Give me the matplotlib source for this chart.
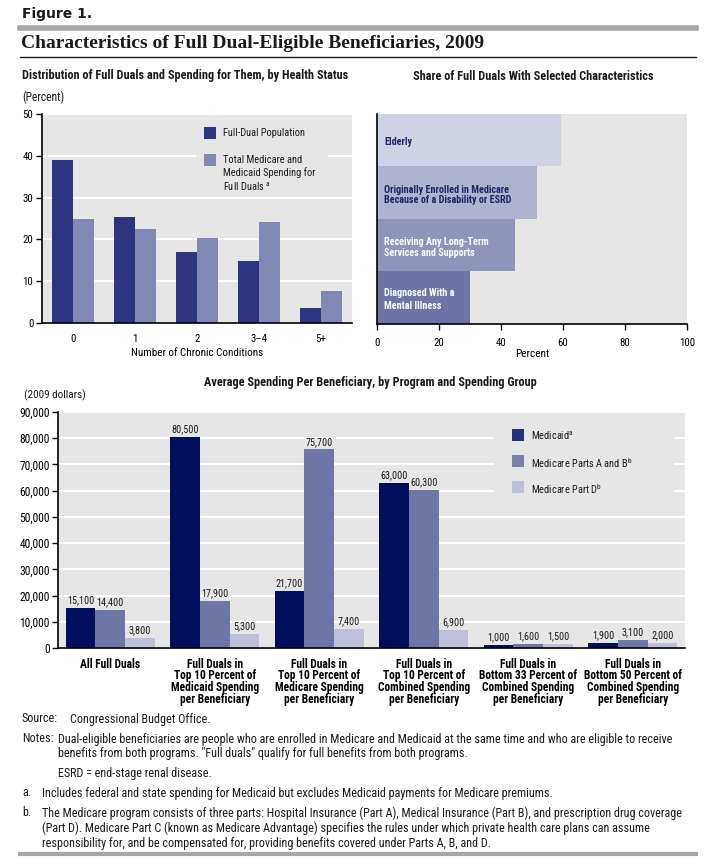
import matplotlib
matplotlib.use('Agg')
import matplotlib.pyplot as plt
from matplotlib import font_manager as fm
from matplotlib.lines import Line2D
from matplotlib.patches import Rectangle

# ---- data -------------------------------------------------------------
conditions = ['0', '1', '2', '3\u20134', '5+']
pop_share = [39.0, 25.4, 17.0, 14.8, 3.5]
spend_share = [24.9, 22.5, 20.3, 24.2, 7.6]

traits = ['Elderly',
          'Originally Enrolled in Medicare\nBecause of a Disability or ESRD',
          'Receiving Any Long-Term\nServices and Supports',
          'Diagnosed With a\nMental Illness']
trait_share = [59.4, 51.6, 44.5, 30.0]

groups = ['All Full Duals',
          'Full Duals in\nTop 10 Percent of\nMedicaid Spending\nper Beneficiary',
          'Full Duals in\nTop 10 Percent of\nMedicare Spending\nper Beneficiary',
          'Full Duals in\nTop 10 Percent of\nCombined Spending\nper Beneficiary',
          'Full Duals in\nBottom 33 Percent of\nCombined Spending\nper Beneficiary',
          'Full Duals in\nBottom 50 Percent of\nCombined Spending\nper Beneficiary']
medicaid = [15100, 80500, 21700, 63000, 1000, 1900]
medicare_ab = [14400, 17900, 75700, 60300, 1600, 3100]
medicare_d = [3800, 5300, 7400, 6900, 1500, 2000]


def pick(*names):
    for n in names:
        try:
            fm.findfont(fm.FontProperties(family=n), fallback_to_default=False)
            return n
        except ValueError:
            pass
    return 'DejaVu Sans'


NARROW = pick('Liberation Sans Narrow', 'Roboto Condensed', 'Liberation Sans')
SERIF = pick('Liberation Serif', 'DejaVu Serif')
plt.rcParams['font.family'] = [NARROW, 'DejaVu Sans']
plt.rcParams['text.color'] = '#1a1a1a'

BG = '#e6e6e6'
W, H = 716, 859
fig = plt.figure(figsize=(W / 100, H / 100), dpi=100)


def fx(x):
    return x / W


def fy(y):
    return 1 - y / H


def ax_px(x0, y0, x1, y1):
    return fig.add_axes([fx(x0), fy(y1), (x1 - x0) / W, (y1 - y0) / H])


def hline(y, x0, x1, lw, color):
    fig.add_artist(Line2D([fx(x0), fx(x1)], [fy(y), fy(y)], lw=lw,
                          color=color, transform=fig.transFigure))


def key(x, y, color, label, size=7.5):
    """square legend key with label, pixel coords of the key's top-left"""
    fig.add_artist(Rectangle((fx(x), fy(y + 12)), 12 / W, 12 / H,
                             facecolor=color, edgecolor='none',
                             transform=fig.transFigure))
    fig.text(fx(x + 19), fy(y + 1), label, fontsize=size, va='top',
             ha='left', linespacing=1.25)


def style_axes(ax):
    ax.set_facecolor(BG)
    for s in ['top', 'right']:
        ax.spines[s].set_visible(False)
    for s in ['left', 'bottom']:
        ax.spines[s].set_linewidth(1.2)
    ax.set_axisbelow(True)


# ---- header -----------------------------------------------------------
fig.text(fx(22), fy(14), 'Figure 1.', fontsize=10, fontweight='bold',
         family='DejaVu Sans', va='center')
hline(28, 20, 696, 4, '#a6a6a6')
fig.text(fx(21), fy(43), 'Characteristics of Full Dual-Eligible Beneficiaries, 2009',
         fontsize=14, fontweight='bold', family=SERIF, va='center')
hline(57, 20, 696, 1, '#1a1a1a')

# ---- top left: health status -------------------------------------------
fig.text(fx(22), fy(76), 'Distribution of Full Duals and Spending for Them, by Health Status',
         fontsize=8.8, fontweight='bold', va='center')
fig.text(fx(22), fy(97), '(Percent)', fontsize=8.3, va='center')

ax1 = ax_px(41.7, 114, 352, 323)
style_axes(ax1)
w = 0.34
xs = range(len(conditions))
ax1.bar([x - w / 2 for x in xs], pop_share, w, color='#2e3580')
ax1.bar([x + w / 2 for x in xs], spend_share, w, color='#8088b3')
ax1.set_xlim(-0.5, 4.5)
ax1.set_ylim(0, 50)
ax1.set_yticks(range(0, 51, 10))
ax1.set_xticks(list(xs))
ax1.set_xticklabels(conditions)
ax1.yaxis.grid(True, color='white', lw=1.4)
ax1.tick_params(axis='y', length=4, width=1, labelsize=7.8, pad=2)
ax1.tick_params(axis='x', length=0, labelsize=7.8, pad=8)
ax1.set_xlabel('Number of Chronic Conditions', fontsize=8, labelpad=3)

fig.add_artist(Rectangle((fx(196), fy(196)), 132 / W, 74 / H, facecolor=BG,
                         edgecolor='none', transform=fig.transFigure))
key(204, 127, '#2e3580', 'Full-Dual Population')
key(204, 154, '#8088b3', 'Total Medicare and\nMedicaid Spending for\nFull Duals $^{\\mathregular{a}}$')

# ---- top right: characteristics -----------------------------------------
fig.text(fx(533), fy(76), 'Share of Full Duals With Selected Characteristics',
         fontsize=8.8, fontweight='bold', va='center', ha='center')

ax2 = ax_px(377, 114, 687, 324)
style_axes(ax2)
trait_colors = ['#cfd2e4', '#b0b3cf', '#9094ba', '#6e74a6']
text_colors = ['#1c2466', '#1c2466', 'white', 'white']
ypos = [3, 2, 1, 0]
ax2.barh(ypos, trait_share, 1.0, color=trait_colors)
for yp, lab, tc in zip(ypos, traits, text_colors):
    ax2.text(2.3, yp - 0.04, lab, color=tc, fontsize=7.3, fontweight='bold',
             va='center', ha='left',
             linespacing=1.4 if yp == 0 else 1.05)
ax2.set_xlim(0, 100)
ax2.set_ylim(-0.5, 3.5)
ax2.set_yticks([])
ax2.set_xticks(range(0, 101, 20))
ax2.tick_params(axis='x', length=4, width=1, labelsize=7.8, pad=6)
ax2.set_xlabel('Percent', fontsize=8.2, labelpad=1)

# ---- bottom: spending per beneficiary ----------------------------------
fig.text(fx(370), fy(383), 'Average Spending Per Beneficiary, by Program and Spending Group',
         fontsize=8.8, fontweight='bold', va='center', ha='center')
fig.text(fx(24), fy(395), '(2009 dollars)', fontsize=8, va='center')

ax3 = ax_px(58, 412, 685, 648)
style_axes(ax3)
w3 = 0.285
gx = range(len(groups))
series = [(medicaid, '#000e5e', -w3), (medicare_ab, '#6e76a6', 0),
          (medicare_d, '#bcc0d8', w3)]
for vals, col, off in series:
    bars = ax3.bar([x + off for x in gx], vals, w3, color=col)
    ax3.bar_label(bars, labels=['{:,}'.format(v) for v in vals],
                  padding=2, fontsize=7.3)
ax3.set_xlim(-0.5, 5.5)
ax3.set_ylim(0, 90000)
ax3.set_yticks(range(0, 90001, 10000))
ax3.set_yticklabels(['{:,}'.format(v) for v in range(0, 90001, 10000)])
ax3.set_xticks(list(gx))
ax3.set_xticklabels(groups, fontweight='bold', linespacing=0.86)
ax3.yaxis.grid(True, color='white', lw=1.4)
ax3.tick_params(axis='y', length=4, width=1, labelsize=8.3, pad=2)
ax3.tick_params(axis='x', length=0, labelsize=8.3, pad=7)

fig.add_artist(Rectangle((fx(494), fy(500)), 180 / W, 82 / H, facecolor=BG,
                         edgecolor='none', transform=fig.transFigure))
key(512, 429, '#25307a', 'Medicaid$^{\\mathregular{a}}$')
key(512, 455, '#7a80ad', 'Medicare Parts A and B$^{\\mathregular{b}}$')
key(512, 481, '#bcc0d8', 'Medicare Part D$^{\\mathregular{b}}$')

# ---- notes --------------------------------------------------------------
ns = 8.7
fig.text(fx(22), fy(719), 'Source:', fontsize=ns, va='center')
fig.text(fx(70), fy(719), 'Congressional Budget Office.', fontsize=ns, va='center')
fig.text(fx(22), fy(739), 'Notes:', fontsize=ns, va='center')
fig.text(fx(58), fy(739), 'Dual-eligible beneficiaries are people who are enrolled in Medicare and '
         'Medicaid at the same time and who are eligible to receive', fontsize=ns, va='center')
fig.text(fx(58), fy(754), 'benefits from both programs. "Full duals" qualify for full benefits '
         'from both programs.', fontsize=ns, va='center')
fig.text(fx(58), fy(773), 'ESRD = end-stage renal disease.', fontsize=ns, va='center')
fig.text(fx(22), fy(793), 'a.', fontsize=ns, va='center')
fig.text(fx(42), fy(793), 'Includes federal and state spending for Medicaid but excludes '
         'Medicaid payments for Medicare premiums.', fontsize=ns, va='center')
fig.text(fx(22), fy(813), 'b.', fontsize=ns, va='center')
fig.text(fx(42), fy(813), 'The Medicare program consists of three parts: Hospital Insurance (Part A), '
         'Medical Insurance (Part B), and prescription drug coverage', fontsize=ns, va='center')
fig.text(fx(42), fy(828), '(Part D). Medicare Part C (known as Medicare Advantage) specifies the rules '
         'under which private health care plans can assume', fontsize=ns, va='center')
fig.text(fx(42), fy(843), 'responsibility for, and be compensated for, providing benefits covered '
         'under Parts A, B, and D.', fontsize=ns, va='center')
hline(854, 20, 696, 3, '#a6a6a6')

fig.savefig('out.png', dpi=100)
